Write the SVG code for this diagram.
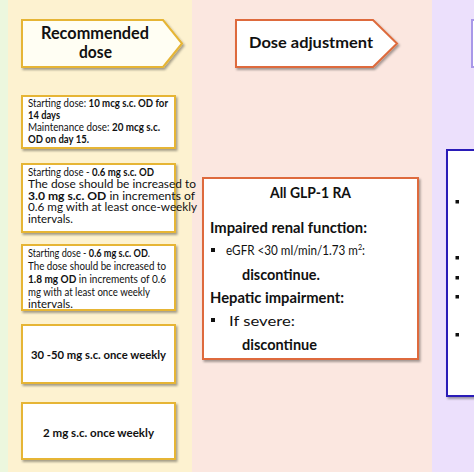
<svg xmlns="http://www.w3.org/2000/svg" width="474" height="474" viewBox="0 0 474 474">
<defs>
<filter id="sh" x="-10%" y="-10%" width="130%" height="140%">
<feDropShadow dx="1.5" dy="2" stdDeviation="1.2" flood-color="#000" flood-opacity="0.35"/>
</filter>
<style>
text{font-family:"Lato","Liberation Sans",sans-serif;fill:#111;}
.b{font-weight:bold;}
.ybox{fill:#fff;stroke:#e6b534;stroke-width:2;filter:url(#sh);}
.obox{fill:#fff;stroke:#de6b3c;stroke-width:2;filter:url(#sh);}
.s{font-size:11px;}
.m{font-size:13px;}
.h{font-size:14.5px;font-weight:bold;}
.bul{fill:#111;}
</style>
</defs>
<rect x="0" y="0" width="474" height="474" fill="#ffffff"/>
<rect x="0" y="0" width="8" height="472" fill="#ecf7de"/>
<rect x="8" y="0" width="184" height="472" fill="#fdf2d0"/>
<rect x="192" y="0" width="240" height="472" fill="#fbe7e0"/>
<rect x="432" y="0" width="42" height="472" fill="#ece0fc"/>

<g id="head-recommended">
<polygon points="22,20 163,20 182,43.5 163,67 22,67" fill="#fffef3" stroke="#e6b534" stroke-width="2" filter="url(#sh)"/>
<text class="b" x="95" y="39" font-size="16.5" text-anchor="middle" textLength="108" lengthAdjust="spacingAndGlyphs">Recommended</text>
<text class="b" x="95.5" y="58" font-size="16.5" text-anchor="middle" textLength="33" lengthAdjust="spacingAndGlyphs">dose</text>
</g>

<g id="head-adjust">
<polygon points="236,20 373,20 397,43.5 373,67 236,67" fill="#fff" stroke="#de6b3c" stroke-width="2" filter="url(#sh)"/>
<text class="b" x="249" y="48" font-size="15.5" textLength="124" lengthAdjust="spacingAndGlyphs">Dose adjustment</text>
</g>

<g id="head-third">
<rect x="472" y="20" width="10" height="47" fill="#fff" stroke="#a898e8" stroke-width="2"/>
</g>

<g id="box1">
<rect class="ybox" x="22" y="96" width="153" height="52"/>
<text class="s" x="28" y="107" textLength="140" lengthAdjust="spacingAndGlyphs">Starting dose: <tspan class="b">10 mcg s.c. OD for</tspan></text>
<text class="s b" x="28" y="119" textLength="32" lengthAdjust="spacingAndGlyphs">14 days</text>
<text class="s" x="28" y="131" textLength="132" lengthAdjust="spacingAndGlyphs">Maintenance dose: <tspan class="b">20 mcg s.c.</tspan></text>
<text class="s b" x="28" y="143" textLength="61" lengthAdjust="spacingAndGlyphs">OD on day 15.</text>
</g>

<g id="box2">
<rect class="ybox" x="22" y="164" width="153" height="68"/>
<text class="s" x="28" y="176" textLength="126" lengthAdjust="spacingAndGlyphs">Starting dose - <tspan class="b">0.6 mg s.c. OD</tspan></text>
<text class="s" x="28" y="188" font-size="12" textLength="168" lengthAdjust="spacingAndGlyphs">The dose should be increased to</text>
<text class="s" x="28" y="199.5" font-size="12" textLength="167" lengthAdjust="spacingAndGlyphs"><tspan class="b">3.0 mg s.c. OD</tspan> in increments of</text>
<text class="s" x="28" y="211" font-size="12" textLength="169" lengthAdjust="spacingAndGlyphs">0.6 mg with at least once-weekly</text>
<text class="s" x="28" y="223" font-size="12" textLength="45" lengthAdjust="spacingAndGlyphs">intervals.</text>
</g>

<g id="box3">
<rect class="ybox" x="22" y="245" width="153" height="65"/>
<text class="s" x="28" y="257" textLength="122" lengthAdjust="spacingAndGlyphs">Starting dose - <tspan class="b">0.6 mg s.c. OD</tspan>.</text>
<text class="s" x="28" y="269.5" textLength="138" lengthAdjust="spacingAndGlyphs">The dose should be increased to</text>
<text class="s" x="28" y="282.5" textLength="138" lengthAdjust="spacingAndGlyphs"><tspan class="b">1.8 mg OD</tspan> in increments of 0.6</text>
<text class="s" x="28" y="295.5" textLength="122" lengthAdjust="spacingAndGlyphs">mg with at least once weekly</text>
<text class="s" x="28" y="308" textLength="45" lengthAdjust="spacingAndGlyphs">intervals.</text>
</g>

<g id="box4">
<rect class="ybox" x="22" y="325" width="153" height="58"/>
<text class="b" x="98.5" y="358.5" font-size="11.5" text-anchor="middle" textLength="135" lengthAdjust="spacingAndGlyphs">30 -50 mg s.c. once weekly</text>
</g>

<g id="box5">
<rect class="ybox" x="22" y="403" width="153" height="56"/>
<text class="b" x="98.5" y="436.5" font-size="11.5" text-anchor="middle" textLength="111" lengthAdjust="spacingAndGlyphs">2 mg s.c. once weekly</text>
</g>

<g id="box-glp1">
<rect class="obox" x="203" y="178" width="215" height="181"/>
<text class="h" x="310.5" y="198" text-anchor="middle" textLength="81" lengthAdjust="spacingAndGlyphs">All GLP-1 RA</text>
<text class="h" x="210" y="233" textLength="157" lengthAdjust="spacingAndGlyphs">Impaired renal function:</text>
<rect class="bul" x="211" y="248" width="4" height="4"/>
<text class="m" x="226" y="255" font-size="12.5" textLength="139" lengthAdjust="spacingAndGlyphs">eGFR &lt;30 ml/min/1.73 m<tspan font-size="8" baseline-shift="super">2</tspan>:</text>
<text class="h" x="242" y="279.5" textLength="78" lengthAdjust="spacingAndGlyphs">discontinue.</text>
<text class="h" x="210" y="303" textLength="134" lengthAdjust="spacingAndGlyphs">Hepatic impairment:</text>
<rect class="bul" x="211" y="318" width="4" height="4"/>
<text class="m" x="229" y="326" textLength="66" lengthAdjust="spacingAndGlyphs">If severe:</text>
<text class="h" x="242" y="349.5" textLength="75" lengthAdjust="spacingAndGlyphs">discontinue</text>
</g>

<g id="box-right">
<rect x="447" y="150" width="40" height="246" fill="#fff" stroke="#2a1ab8" stroke-width="2" filter="url(#sh)"/>
<rect class="bul" x="455.5" y="200" width="3.5" height="3.5"/>
<rect class="bul" x="455.5" y="256" width="3.5" height="3.5"/>
<rect class="bul" x="455.5" y="276" width="3.5" height="3.5"/>
<rect class="bul" x="455.5" y="295" width="3.5" height="3.5"/>
<rect class="bul" x="455.5" y="333" width="3.5" height="3.5"/>
</g>

<g id="connectors"></g>
</svg>
